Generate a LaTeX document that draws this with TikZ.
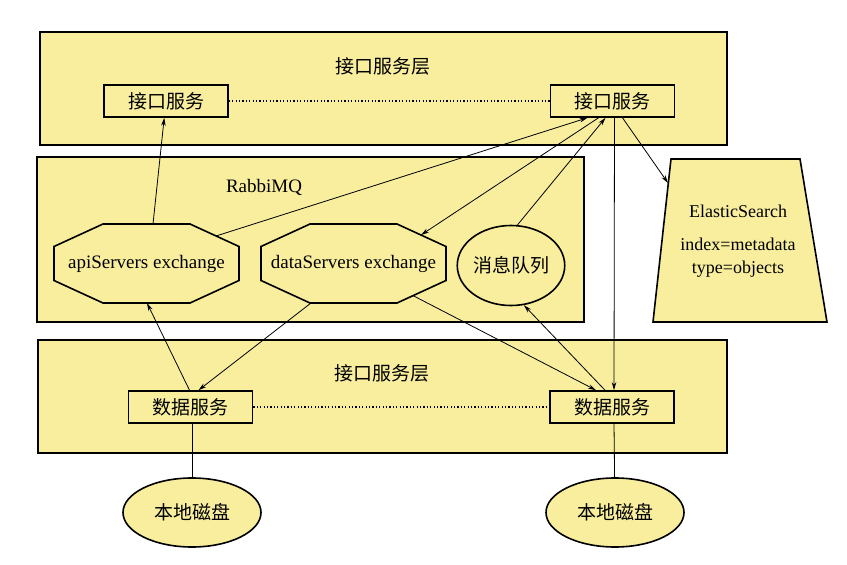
\documentclass[tikz,border=0pt]{standalone}
\usepackage{fontspec}
\setmainfont{Liberation Serif}
\newfontfamily\cjk{Noto Sans CJK SC}
\usepackage{xcolor}
\definecolor{Straw}{HTML}{F8EE9E}
\usetikzlibrary{shapes.geometric, arrows.meta, positioning}

\begin{document}
\begin{tikzpicture}[x=1pt, y=-1pt, >={Stealth[length=8pt, width=4.5pt]},
  every node/.style={font=\fontsize{19}{22}\selectfont},
  layer/.style={rectangle, draw, line width=1.6pt, fill=Straw, inner sep=0pt},
  svc/.style={rectangle, draw, line width=1.6pt, fill=Straw, minimum width=124pt,
              minimum height=32pt, inner sep=0pt, font=\cjk\fontsize{19}{22}\selectfont},
  octo/.style={draw, line width=1.6pt, fill=Straw, line join=miter},
  queue/.style={ellipse, draw, line width=1.6pt, fill=Straw, minimum width=90pt,
                minimum height=80pt, inner sep=0pt, font=\cjk\fontsize{19}{22}\selectfont},
  disk/.style={ellipse, draw, line width=1.6pt, fill=Straw, minimum width=138pt,
               minimum height=69pt, inner sep=0pt, font=\cjk\fontsize{19}{22}\selectfont},
  storebox/.style={draw, line width=1.6pt, fill=Straw, line join=miter},
  storetxt/.style={align=center, inner sep=1pt, font=\fontsize{18}{23}\selectfont},
  cjklbl/.style={inner sep=1pt, font=\cjk\fontsize{19}{22}\selectfont},
  lbl/.style={inner sep=1pt},
  arr/.style={->, line width=0.8pt},
  link/.style={line width=0.8pt},
  dots/.style={line width=1.2pt, dash pattern=on 1.2pt off 2.2pt}
]
\useasboundingbox (0,0) rectangle (847,565);

%% ---- Layers ----
\node[layer, minimum width=687pt, minimum height=113pt] (apitier)  at (383.5, 88.5) {};
\node[layer, minimum width=547pt, minimum height=165pt] (mqtier)   at (310.5,239.5) {};
\node[layer, minimum width=689pt, minimum height=113pt] (datatier) at (382.5,396.5) {};

%% ---- Interface layer ----
\node[cjklbl] (apititle) at (383, 66)  {接口服务层};
\node[svc]    (apiL)     at (166, 101) {接口服务};
\node[svc]    (apiR)     at (612.5,101) {接口服务};

%% ---- RabbitMQ ----
\node[lbl] (mqtitle) at (264, 187) {RabbiMQ};
\foreach \cx in {146.5, 353.5} {
  \draw[octo] (\cx-92.5,246.5) -- (\cx-43.5,224) -- (\cx+43.5,224) -- (\cx+92.5,246.5)
    -- (\cx+92.5,280.5) -- (\cx+43.5,303) -- (\cx-43.5,303) -- (\cx-92.5,280.5) -- cycle;
}
\node[lbl]   (apix)  at (146.5,263.5) {apiServers exchange};
\node[lbl]   (datax) at (353.5,263.5) {dataServers exchange};
\node[queue] (mq)    at (511, 265.5)  {消息队列};
\coordinate (apixN)   at (153, 224);
\coordinate (apixNE)  at (216, 236);
\coordinate (apixS)   at (147, 303);
\coordinate (dataxNE) at (421, 235);
\coordinate (dataxSE) at (413, 295.6);
\coordinate (dataxSW) at (311, 303);

%% ---- ElasticSearch ----
\draw[storebox] (671,159) -- (800,159) -- (827,322) -- (653,322) -- cycle;
\node[storetxt] (es) at (738,241) {ElasticSearch\\[10pt]index=metadata\\type=objects};
\coordinate (esW) at (668, 183);

%% ---- Data layer ----
\node[cjklbl] (datatitle) at (382, 373) {接口服务层};
\node[svc]    (dataL)     at (190.5,407) {数据服务};
\node[svc]    (dataR)     at (612, 407)  {数据服务};
\node[disk]   (diskL)     at (192, 512.5) {本地磁盘};
\node[disk]   (diskR)     at (615, 512.5) {本地磁盘};

%% ---- Connectors ----
\draw[dots] (apiL) -- (apiR);
\draw[dots] (dataL) -- (dataR);
\draw[arr] (apixN) -- (apiL);
\draw[arr] (apixNE) -- ([xshift=-25pt]apiR.south);
\draw[arr] ([xshift=-14pt]apiR.south) -- (dataxNE);
\draw[arr] (mq.81) -- ([xshift=-7pt]apiR.south);
\draw[arr] ([xshift=10pt]apiR.south) -- (esW);
\draw[arr] ([xshift=2pt]apiR.south) -- ([xshift=2pt]dataR.north);
\draw[arr] ([xshift=-1pt]dataL.north) -- (apixS);
\draw[arr] (dataxSW) -- ([xshift=8pt]dataL.north);
\draw[arr] (dataxSE) -- ([xshift=-16pt]dataR.north);
\draw[arr] ([xshift=-7pt]dataR.north) -- (mq.-72);
\draw[link] ([xshift=1.5pt]dataL.south) -- (diskL);
\draw[link] ([xshift=2pt]dataR.south) -- (diskR);

\end{tikzpicture}
\end{document}
